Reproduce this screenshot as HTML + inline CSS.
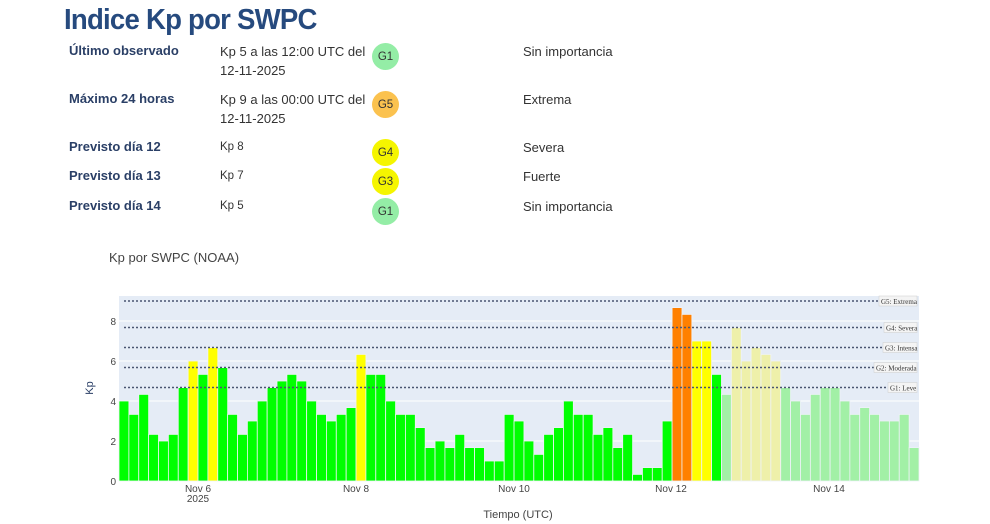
<!DOCTYPE html>
<html><head><meta charset="utf-8"><style>
body{margin:0;width:990px;height:524px;background:#fff;position:relative;overflow:hidden;font-family:"Liberation Sans",sans-serif}
.a{position:absolute;white-space:nowrap}
h1{position:absolute;left:64px;top:4px;margin:0;font-size:29px;font-weight:bold;color:#264a7e;font-family:"Liberation Sans",sans-serif;letter-spacing:-0.8px;transform:scaleX(0.95);transform-origin:left}
.l{font-weight:bold;color:#2a3f66;font-size:13px;left:69px}
.v{font-size:13px;color:#333;left:220px;line-height:19px}
.v2{font-size:11.5px}
.d{font-size:13px;color:#333;left:523px}
.c{width:27px;height:27px;border-radius:50%;left:372px;text-align:center;line-height:28px;font-size:11.5px;color:#333}
</style></head><body>
<h1>Indice Kp por SWPC</h1>
<div class="a l" style="top:43px">Último observado</div>
<div class="a v" style="top:42px">Kp 5 a las 12:00 UTC del<br>12-11-2025</div>
<div class="a c" style="top:43px;background:#94eda6">G1</div>
<div class="a d" style="top:44px">Sin importancia</div>
<div class="a l" style="top:91px">Máximo 24 horas</div>
<div class="a v" style="top:90px">Kp 9 a las 00:00 UTC del<br>12-11-2025</div>
<div class="a c" style="top:91px;background:#fbc24f">G5</div>
<div class="a d" style="top:92px">Extrema</div>
<div class="a l" style="top:139px">Previsto día 12</div>
<div class="a v v2" style="top:138px">Kp 8</div>
<div class="a c" style="top:139px;background:#f5f500">G4</div>
<div class="a d" style="top:140px">Severa</div>
<div class="a l" style="top:168px">Previsto día 13</div>
<div class="a v v2" style="top:167px">Kp 7</div>
<div class="a c" style="top:168px;background:#f5f500">G3</div>
<div class="a d" style="top:169px">Fuerte</div>
<div class="a l" style="top:198px">Previsto día 14</div>
<div class="a v v2" style="top:197px">Kp 5</div>
<div class="a c" style="top:198px;background:#94eda6">G1</div>
<div class="a d" style="top:199px">Sin importancia</div>

<svg class="a" style="left:0;top:0" width="990" height="524" id="s" font-family="Liberation Sans, sans-serif">
<text x="109" y="262" font-size="13" fill="#444">Kp por SWPC (NOAA)</text>
<rect x="119" y="296" width="800" height="185" fill="#e5ecf6"/>
<g stroke="#fff" stroke-width="1">
<line x1="119" x2="919" y1="441" y2="441"/><line x1="119" x2="919" y1="401" y2="401"/><line x1="119" x2="919" y1="361" y2="361"/><line x1="119" x2="919" y1="321" y2="321"/>
</g>
<g id="bars"></g>
<g stroke="#4a5570" stroke-width="1.5" stroke-dasharray="2,2">
<line x1="124" x2="880" y1="301" y2="301"/><line x1="124" x2="884" y1="327.5" y2="327.5"/><line x1="124" x2="884" y1="347.5" y2="347.5"/><line x1="124" x2="874" y1="367.5" y2="367.5"/><line x1="124" x2="888" y1="387.5" y2="387.5"/>
</g>
<g font-family="Liberation Serif, serif" font-size="7" fill="#333">
<rect x="879" y="296" width="38" height="10" fill="#f4f4f4" stroke="#ccc" stroke-width=".5"/><text x="881" y="304">G5: Extrema</text>
<rect x="884" y="322.5" width="33" height="10" fill="#f4f4f4" stroke="#ccc" stroke-width=".5"/><text x="886" y="330.5">G4: Severa</text>
<rect x="883" y="342.5" width="34" height="10" fill="#f4f4f4" stroke="#ccc" stroke-width=".5"/><text x="885" y="350.5">G3: Intensa</text>
<rect x="874" y="362.5" width="43" height="10" fill="#f4f4f4" stroke="#ccc" stroke-width=".5"/><text x="876" y="370.5">G2: Moderada</text>
<rect x="888" y="382.5" width="29" height="10" fill="#f4f4f4" stroke="#ccc" stroke-width=".5"/><text x="890" y="390.5">G1: Leve</text>
</g>
<g font-size="10" fill="#444" text-anchor="end">
<text x="116" y="485">0</text><text x="116" y="445">2</text><text x="116" y="405">4</text><text x="116" y="365">6</text><text x="116" y="325">8</text>
</g>
<g font-size="10" fill="#444" text-anchor="middle">
<text x="198" y="492">Nov 6</text><text x="198" y="502">2025</text>
<text x="356" y="492">Nov 8</text><text x="514" y="492">Nov 10</text><text x="671" y="492">Nov 12</text><text x="829" y="492">Nov 14</text>
<text x="518" y="518" font-size="11">Tiempo (UTC)</text>
<text transform="translate(93,388) rotate(-90)" font-size="11" fill="#2a3f66">Kp</text>
</g>
</svg>
<script>
var obs=[4,3.33,4.33,2.33,2,2.33,4.67,6,5.33,6.67,5.67,3.33,2.33,3,4,4.67,5,5.33,5,4,3.33,3,3.33,3.67,6.33,5.33,5.33,4,3.33,3.33,2.67,1.67,2,1.67,2.33,1.67,1.67,1,1,3.33,3,2,1.33,2.33,2.67,4,3.33,3.33,2.33,2.67,1.67,2.33,0.33,0.67,0.67,3,8.67,8.33,7,7,5.33];
var fc=[4.33,7.67,6,6.67,6.33,6,4.67,4,3.33,4.33,4.67,4.67,4,3.33,3.67,3.33,3,3,3.33,1.67];
var g=document.getElementById('bars'),h='',w=800/81;
function col(v,f){if(v>=8)return f?'#f5c080':'#ff8000';if(v>=6)return f?'#eef0aa':'#ffff00';return f?'#a2f0a6':'#00ff00';}
obs.concat(fc).forEach(function(v,i){var f=i>=obs.length;var x=119+i*w,hh=v*20;
h+='<rect x="'+x.toFixed(2)+'" y="'+(481-hh).toFixed(2)+'" width="'+w.toFixed(2)+'" height="'+hh.toFixed(2)+'" fill="'+col(v,f)+'" stroke="#eef2f8" stroke-width="0.8"/>';});
g.innerHTML=h;
</script>
</body></html>
